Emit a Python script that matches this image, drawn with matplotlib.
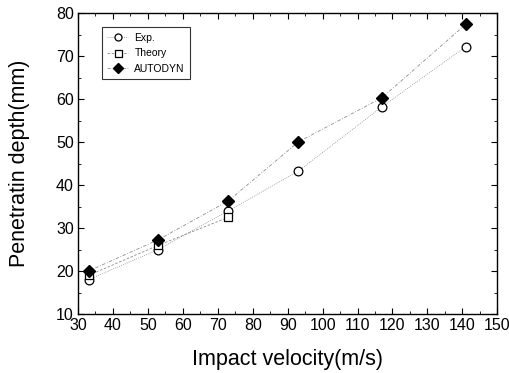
import matplotlib.pyplot as plt
from matplotlib.ticker import MultipleLocator

plt.rcParams['font.family'] = ['Liberation Sans', 'DejaVu Sans']

# data
vel = [33, 53, 73, 93, 117, 141]
exp_depth = [18, 25, 34, 43.2, 58.2, 72.2]
theory_vel = [33, 53, 73]
theory_depth = [19, 26, 32.5]
autodyn_depth = [20, 27.3, 36.3, 50, 60.3, 77.4]

fig = plt.figure(figsize=(5.1, 3.73), dpi=100)
ax = fig.add_axes([0.153, 0.158, 0.822, 0.807])

ax.plot(vel, exp_depth, color='0.55', lw=0.6, ls=(0, (1, 1.5)),
        marker='o', ms=6.3, mfc='white', mec='black', mew=0.9, label='Exp.')
ax.plot(theory_vel, theory_depth, color='0.55', lw=0.6, ls=(0, (3, 2)),
        marker='s', ms=6.3, mfc='white', mec='black', mew=0.9, label='Theory')
ax.plot(vel, autodyn_depth, color='0.55', lw=0.6, ls=(0, (4, 2, 1, 2)),
        marker='D', ms=6, mfc='black', mec='black', label='AUTODYN')

ax.set_xlim(30, 150)
ax.set_ylim(10, 80)
ax.xaxis.set_major_locator(MultipleLocator(10))
ax.xaxis.set_minor_locator(MultipleLocator(5))
ax.yaxis.set_major_locator(MultipleLocator(10))
ax.yaxis.set_minor_locator(MultipleLocator(5))
ax.tick_params(which='both', direction='in', top=True, right=True, labelsize=11.5)
ax.tick_params(which='major', length=4, pad=3)
ax.tick_params(which='minor', length=2)
for s in ax.spines.values():
    s.set_linewidth(1.0)

ax.set_xlabel('Impact velocity(m/s)', fontsize=15.5)
ax.set_ylabel('Penetratin depth(mm)', fontsize=15.5)
ax.xaxis.set_label_coords(0.5, -0.117)
ax.yaxis.set_label_coords(-0.115, 0.5)

leg = ax.legend(loc='upper left', fontsize=7.5, frameon=True, fancybox=False,
                edgecolor='black', bbox_to_anchor=(0.045, 0.97),
                handlelength=2.0, markerscale=0.8, borderpad=0.5,
                labelspacing=0.55, handletextpad=0.6)
leg.get_frame().set_linewidth(0.8)

fig.savefig('out.png', dpi=100)
